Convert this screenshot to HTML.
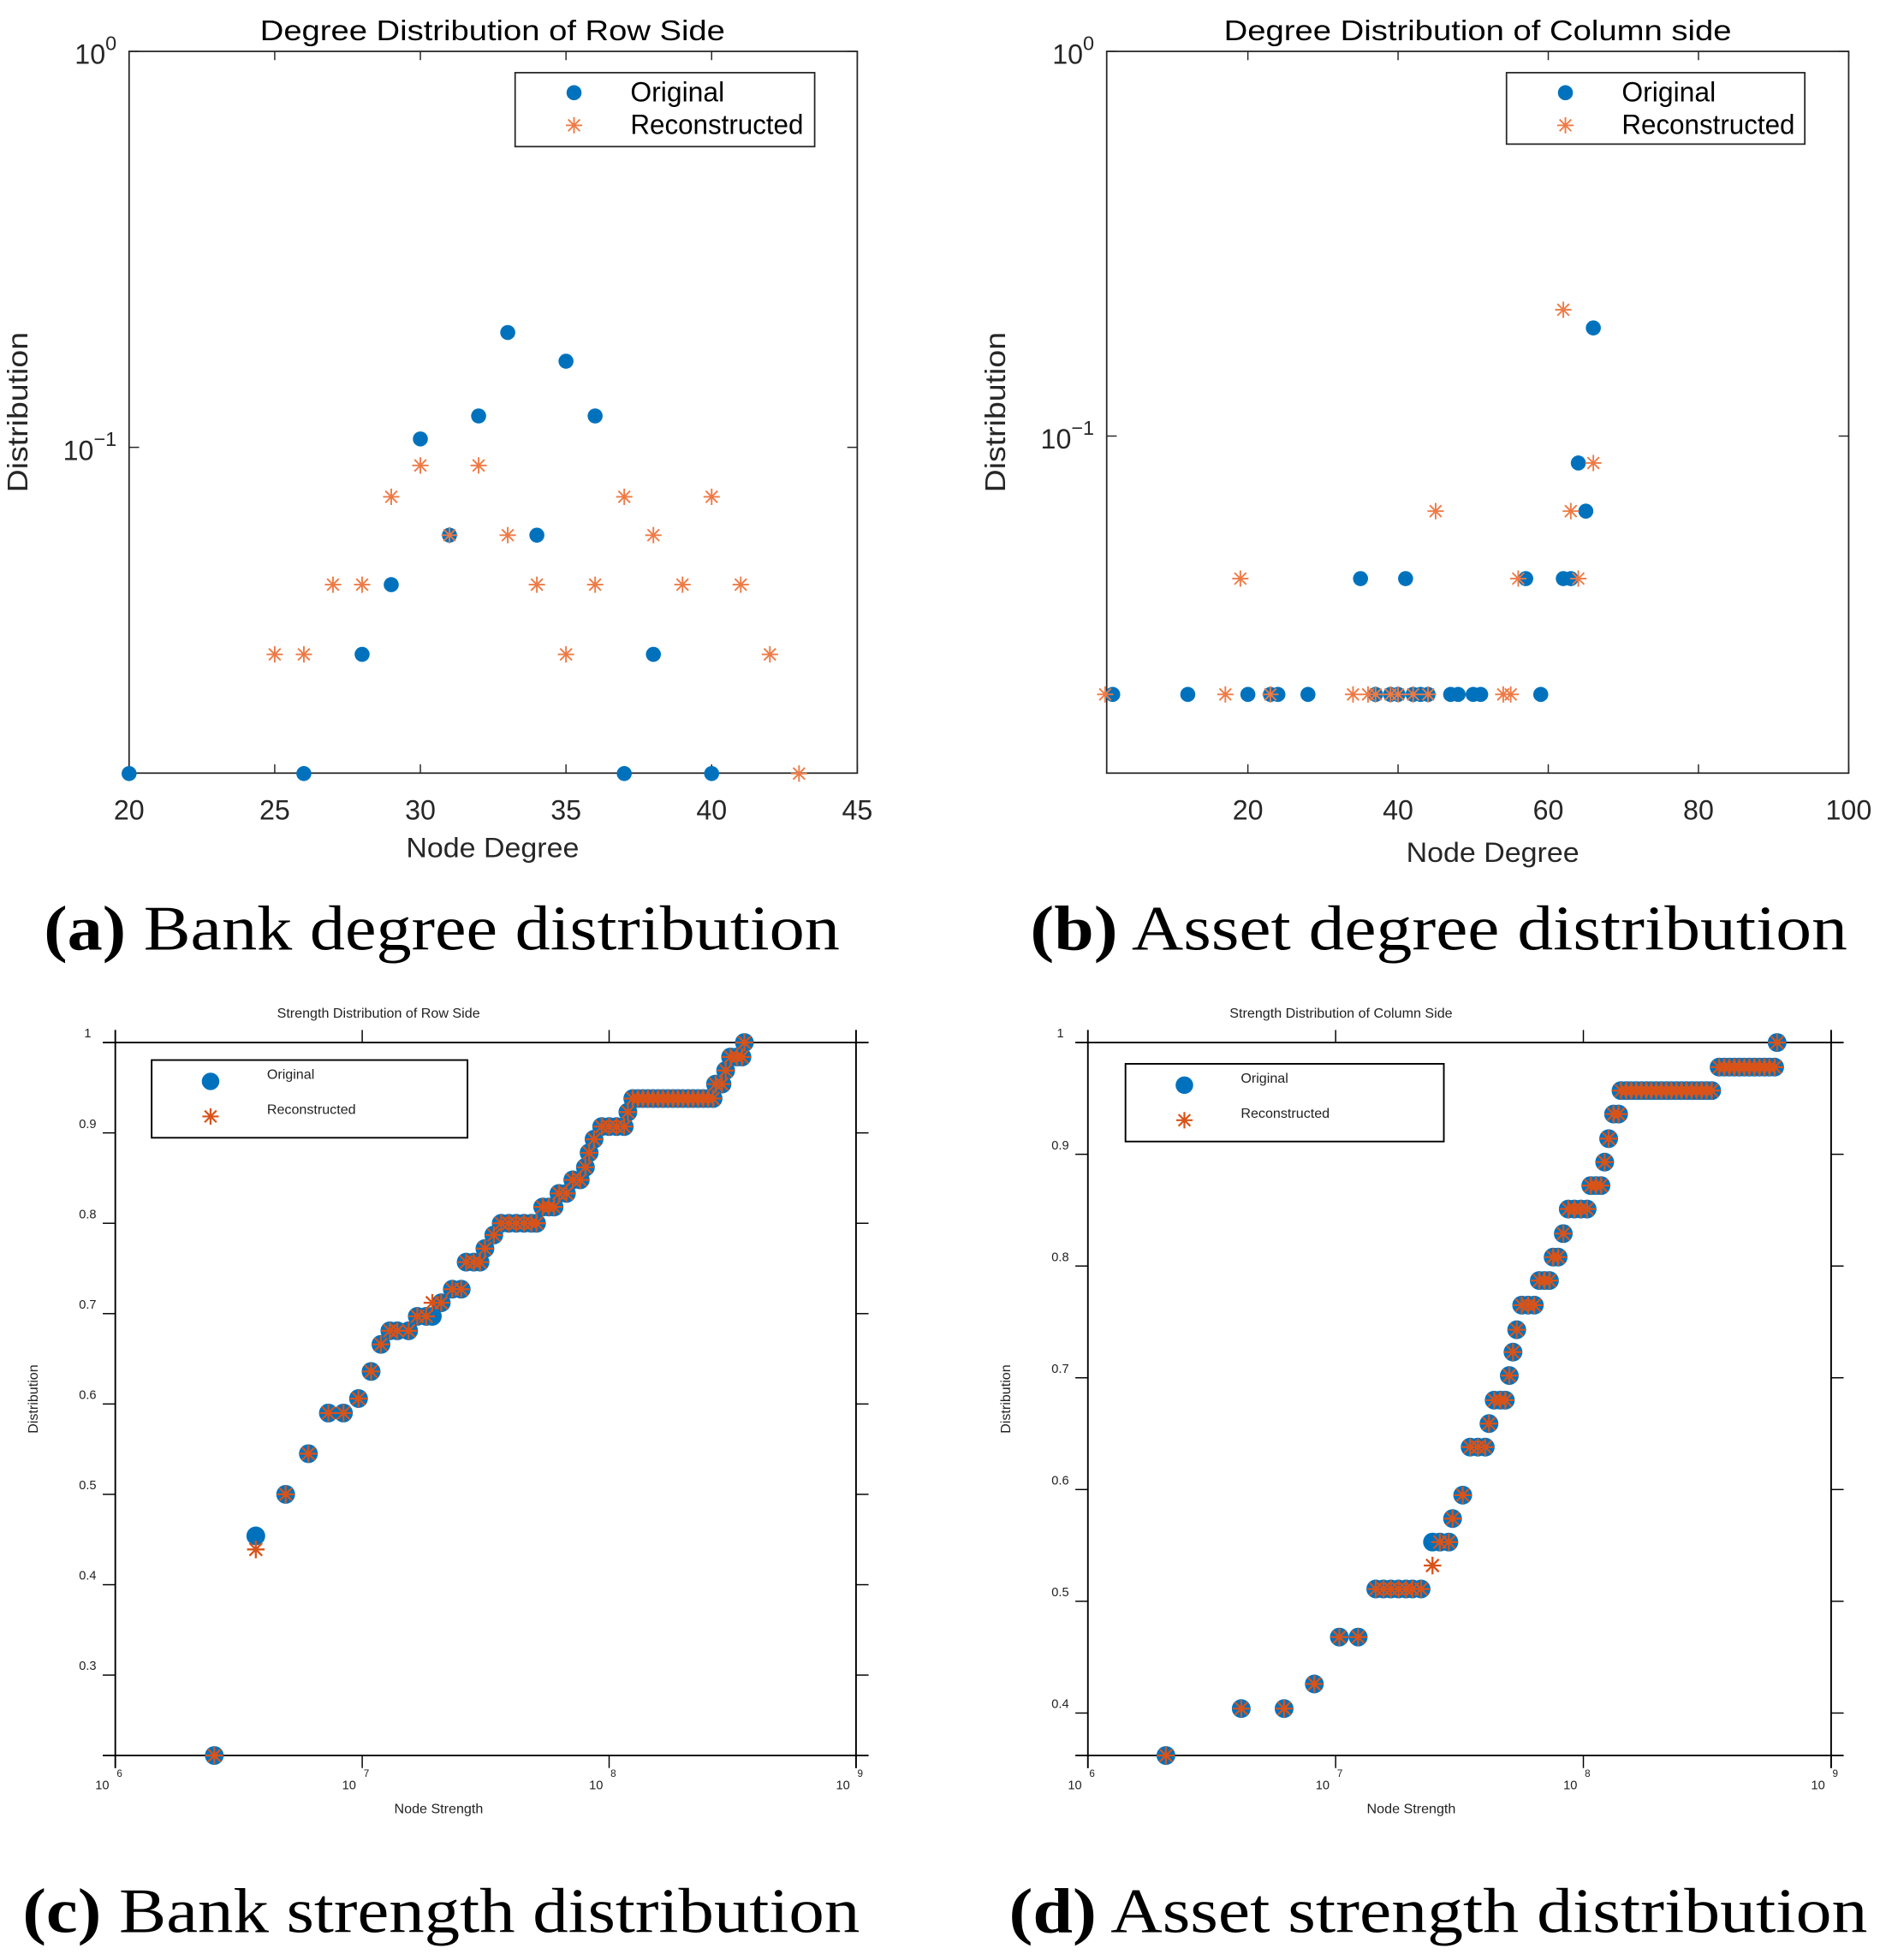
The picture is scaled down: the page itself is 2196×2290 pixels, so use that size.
<!DOCTYPE html>
<html><head><meta charset="utf-8"><style>
html,body{margin:0;padding:0;background:#fff;}
svg{display:block;}
</style></head><body>
<svg id="fig" xmlns="http://www.w3.org/2000/svg" width="2196" height="2290" viewBox="0 0 1500 1564.2" preserveAspectRatio="none" font-family="'Liberation Sans', sans-serif">
<rect x="0" y="0" width="1500" height="1565" fill="#fff"/>
<g id="pa"></g>
<g id="pb"></g>
<g id="pc"></g>
<g id="pd"></g>
<text x="35" y="758" font-family="'Liberation Serif', serif" font-size="51" textLength="635" lengthAdjust="spacingAndGlyphs"><tspan font-weight="bold">(a)</tspan> Bank degree distribution</text>
<text x="822" y="758" font-family="'Liberation Serif', serif" font-size="51" textLength="652" lengthAdjust="spacingAndGlyphs"><tspan font-weight="bold">(b)</tspan> Asset degree distribution</text>
<text x="18" y="1542" font-family="'Liberation Serif', serif" font-size="51" textLength="668" lengthAdjust="spacingAndGlyphs"><tspan font-weight="bold">(c)</tspan> Bank strength distribution</text>
<text x="805" y="1542" font-family="'Liberation Serif', serif" font-size="51" textLength="685" lengthAdjust="spacingAndGlyphs"><tspan font-weight="bold">(d)</tspan> Asset strength distribution</text>
</svg>
<script>
// ---- Panel A data ----
const aOrigDegree = [20,26,28,29,30,31,32,33,34,35,36,37,38,40];
const aOrigDist = [0.015,0.015,0.03,0.045,0.105,0.06,0.12,0.195,0.06,0.165,0.12,0.015,0.03,0.015];
const aRecDegree = [25,26,27,28,29,30,31,32,33,34,35,36,37,38,39,40,41,42,43];
const aRecDist = [0.03,0.03,0.045,0.045,0.075,0.09,0.06,0.09,0.06,0.045,0.03,0.045,0.075,0.06,0.045,0.075,0.045,0.03,0.015];
const aXTicks = [20,25,30,35,40,45];
// ---- Panel B data ----
const bOrigDegree = [2,12,20,23,24,28,37,39,40,42,43,44,47,48,50,51,59,35,41,57,62,63,65,64,66];
const bOrigDist = [0.0213,0.0213,0.0213,0.0213,0.0213,0.0213,0.0213,0.0213,0.0213,0.0213,0.0213,0.0213,0.0213,0.0213,0.0213,0.0213,0.0213,0.0426,0.0426,0.0426,0.0426,0.0426,0.0638,0.0851,0.191];
const bRecDegree = [1,17,23,34,36,37,39,40,42,44,54,55,19,56,64,45,63,66,62];
const bRecDist = [0.0213,0.0213,0.0213,0.0213,0.0213,0.0213,0.0213,0.0213,0.0213,0.0213,0.0213,0.0213,0.0426,0.0426,0.0426,0.0638,0.0638,0.0851,0.213];
const bXTicks = [20,40,60,80,100];
// ---- Panel C data (log10 strength) ----
const cLogStrength = [6.401,6.569,6.690,6.782,6.863,6.924,6.985,7.036,7.076,7.112,7.142,7.188,7.223,7.259,7.284,7.320,7.365,7.401,7.421,7.452,7.477,7.497,7.533,7.563,7.594,7.624,7.655,7.685,7.706,7.731,7.756,7.777,7.797,7.827,7.853,7.883,7.904,7.919,7.939,7.970,8.000,8.030,8.061,8.076,8.096,8.117,8.137,8.157,8.178,8.198,8.218,8.239,8.259,8.279,8.299,8.320,8.340,8.360,8.381,8.401,8.421,8.431,8.457,8.472,8.492,8.518,8.538,8.548];
const cOrigDist = [0.211,0.454,0.5,0.545,0.59,0.59,0.606,0.636,0.666,0.681,0.681,0.681,0.697,0.697,0.697,0.712,0.727,0.727,0.757,0.757,0.757,0.772,0.787,0.8,0.8,0.8,0.8,0.8,0.8,0.818,0.818,0.818,0.833,0.833,0.848,0.848,0.862,0.878,0.893,0.907,0.907,0.907,0.907,0.923,0.938,0.938,0.938,0.938,0.938,0.938,0.938,0.938,0.938,0.938,0.938,0.938,0.938,0.938,0.938,0.938,0.938,0.954,0.954,0.969,0.984,0.984,0.984,1.0];
const cRecDist = [0.211,0.439,0.5,0.545,0.59,0.59,0.606,0.636,0.666,0.681,0.681,0.681,0.697,0.697,0.712,0.712,0.727,0.727,0.757,0.757,0.757,0.772,0.787,0.8,0.8,0.8,0.8,0.8,0.8,0.818,0.818,0.818,0.833,0.833,0.848,0.848,0.862,0.878,0.893,0.907,0.907,0.907,0.907,0.923,0.938,0.938,0.938,0.938,0.938,0.938,0.938,0.938,0.938,0.938,0.938,0.938,0.938,0.938,0.938,0.938,0.938,0.954,0.954,0.969,0.984,0.984,0.984,1.0];
const cYTicks = [0.3,0.4,0.5,0.6,0.7,0.8,0.9,1];
// ---- Panel D data (log10 strength) ----
const dLogStrength = [6.315,6.619,6.792,6.914,7.015,7.091,7.162,7.193,7.223,7.254,7.284,7.310,7.345,7.391,7.421,7.457,7.472,7.513,7.543,7.574,7.604,7.619,7.640,7.665,7.685,7.701,7.716,7.731,7.751,7.777,7.802,7.822,7.843,7.863,7.878,7.898,7.919,7.939,7.964,7.990,8.015,8.030,8.051,8.071,8.086,8.102,8.122,8.142,8.152,8.173,8.193,8.213,8.234,8.254,8.274,8.294,8.315,8.335,8.355,8.376,8.396,8.416,8.437,8.457,8.477,8.497,8.518,8.548,8.569,8.589,8.609,8.629,8.650,8.670,8.690,8.711,8.731,8.751,8.772,8.782];
const dOrigDist = [0.362,0.404,0.404,0.426,0.468,0.468,0.511,0.511,0.511,0.511,0.511,0.511,0.511,0.553,0.553,0.553,0.574,0.595,0.638,0.638,0.638,0.659,0.68,0.68,0.68,0.702,0.723,0.743,0.765,0.765,0.765,0.787,0.787,0.787,0.808,0.808,0.829,0.851,0.851,0.851,0.851,0.872,0.872,0.872,0.893,0.914,0.936,0.936,0.957,0.957,0.957,0.957,0.957,0.957,0.957,0.957,0.957,0.957,0.957,0.957,0.957,0.957,0.957,0.957,0.957,0.957,0.957,0.978,0.978,0.978,0.978,0.978,0.978,0.978,0.978,0.978,0.978,0.978,0.978,1.0];
const dRecDist = [0.362,0.404,0.404,0.426,0.468,0.468,0.511,0.511,0.511,0.511,0.511,0.511,0.511,0.532,0.553,0.553,0.574,0.595,0.638,0.638,0.638,0.659,0.68,0.68,0.68,0.702,0.723,0.743,0.765,0.765,0.765,0.787,0.787,0.787,0.808,0.808,0.829,0.851,0.851,0.851,0.851,0.872,0.872,0.872,0.893,0.914,0.936,0.936,0.957,0.957,0.957,0.957,0.957,0.957,0.957,0.957,0.957,0.957,0.957,0.957,0.957,0.957,0.957,0.957,0.957,0.957,0.957,0.978,0.978,0.978,0.978,0.978,0.978,0.978,0.978,0.978,0.978,0.978,0.978,1.0];
const dYTicks = [0.4,0.5,0.6,0.7,0.8,0.9,1];
const logXTicks = [6,7,8,9];

const NS='http://www.w3.org/2000/svg';
function mk(parent, tag, attrs, txt){
  const e=document.createElementNS(NS,tag);
  for(const k in attrs) e.setAttribute(k,attrs[k]);
  if(txt!==undefined) e.textContent=txt;
  parent.appendChild(e); return e;
}
function dot(g,x,y,r,col){
  const c=mk(g,'circle',{cx:x,cy:y,r:r,fill:col});
  
  
  return c;
}
function star(g,x,y,s,col,w){
  const p=mk(g,'path',{d:`M${x-s},${y}H${x+s}M${x},${y-s}V${y+s}M${x-s*0.72},${y-s*0.72}L${x+s*0.72},${y+s*0.72}M${x-s*0.72},${y+s*0.72}L${x+s*0.72},${y-s*0.72}`,stroke:col,'stroke-width':w,fill:'none'});
  
  
  return p;
}
const BLUE='#0072BD', ORL='#EE7A45', ORD='#D95319';

function degreePanel(gid, box, xmin, xmax, yTop, yDec, xTicks, od, ov, rd, rv, title, titleLen, leg, titleX, xlabX, xlabY, ylabX){
  const g=document.getElementById(gid);
  const X=v=>box.l+(v-xmin)/(xmax-xmin)*(box.r-box.l);
  const Y=v=>yTop+(-Math.log10(v))*yDec;
  const ax=mk(g,'rect',{x:box.l,y:box.t,width:box.r-box.l,height:box.b-box.t,fill:'none',stroke:'#262626','stroke-width':1.2});
   
  xTicks.forEach(t=>{
    const x=X(t);
    mk(g,'line',{x1:x,y1:box.b,x2:x,y2:box.b-7,stroke:'#262626'});
    mk(g,'line',{x1:x,y1:box.t,x2:x,y2:box.t+7,stroke:'#262626'});
    const tl=mk(g,'text',{x:x,y:box.b+37,'font-size':22,'text-anchor':'middle',fill:'#262626'},String(t));
     
  });
  [0,-1].forEach(e=>{
    const y=Y(Math.pow(10,e));
    mk(g,'line',{x1:box.l,y1:y,x2:box.l+8,y2:y,stroke:'#262626'});
    mk(g,'line',{x1:box.r,y1:y,x2:box.r-8,y2:y,stroke:'#262626'});
    const tl=mk(g,'text',{x:box.l-10,y:y+10,'font-size':22,'text-anchor':'end',fill:'#262626'});
     
    tl.appendChild(document.createTextNode('10'));
    mk(tl,'tspan',{dy:-11,'font-size':16},e===0?'0':'\u22121');
  });
  const t=mk(g,'text',{x:titleX,y:box.t-9,'font-size':23,'text-anchor':'middle',fill:'#000',textLength:titleLen,lengthAdjust:'spacingAndGlyphs'},title);
   
  const xl=mk(g,'text',{x:xlabX,y:xlabY,'font-size':22,'text-anchor':'middle',fill:'#262626',textLength:138,lengthAdjust:'spacingAndGlyphs'},'Node Degree');
   
  const yl=mk(g,'text',{x:0,y:0,'font-size':23,'text-anchor':'middle',fill:'#262626',transform:`translate(${ylabX},329) rotate(-90)`,textLength:128,lengthAdjust:'spacingAndGlyphs'},'Distribution');
   
  od.forEach((d,i)=>dot(g,X(d),Y(ov[i]),6,BLUE));
  rd.forEach((d,i)=>star(g,X(d),Y(rv[i]),6.5,ORL,1.3));
  const lg=mk(g,'g',{});
   
  mk(lg,'rect',{x:leg.x,y:leg.y,width:leg.w,height:leg.h,fill:'#fff',stroke:'#262626','stroke-width':1.2});
  dot(lg,leg.x+47,leg.y+16,6,BLUE);
  star(lg,leg.x+47,leg.y+42,6.5,ORL,1.3);
  const e1=mk(lg,'text',{x:leg.x+92,y:leg.y+23,'font-size':22,fill:'#000',textLength:75,lengthAdjust:'spacingAndGlyphs'},'Original');
   
  const e2=mk(lg,'text',{x:leg.x+92,y:leg.y+49,'font-size':22,fill:'#000',textLength:138,lengthAdjust:'spacingAndGlyphs'},'Reconstructed');
   
}
degreePanel('pa',{l:103,r:684,t:41,b:617},20,45,41,316,aXTicks,aOrigDegree,aOrigDist,aRecDegree,aRecDist,'Degree Distribution of Row Side',371,{x:411,y:58,w:239,h:59},393,393,684,22);
degreePanel('pb',{l:883,r:1475,t:41,b:617},1.2,100,41,307,bXTicks,bOrigDegree,bOrigDist,bRecDegree,bRecDist,'Degree Distribution of Column side',405,{x:1202,y:58,w:238,h:57},1179,1191,688,802);

function strengthPanel(gid, box, yMin, xs, ov, rv, yTicks, title, titleX, leg){
  const g=document.getElementById(gid);
  const X=v=>box.l+(v-6)/3*(box.r-box.l);
  const Y=v=>box.b-(v-yMin)/(1-yMin)*(box.b-box.t);
  mk(g,'line',{x1:box.l-10,y1:box.t,x2:box.r+10,y2:box.t,stroke:'#000','stroke-width':1.3});
  mk(g,'line',{x1:box.l-10,y1:box.b,x2:box.r+10,y2:box.b,stroke:'#000','stroke-width':1.3});
  mk(g,'line',{x1:box.l,y1:box.t-10,x2:box.l,y2:box.b+10,stroke:'#000','stroke-width':1.3});
  mk(g,'line',{x1:box.r,y1:box.t-10,x2:box.r,y2:box.b+10,stroke:'#000','stroke-width':1.3});
  logXTicks.forEach(t=>{
    const x=X(t);
    mk(g,'line',{x1:x,y1:box.t-10,x2:x,y2:box.t,stroke:'#000'});
    mk(g,'line',{x1:x,y1:box.b,x2:x,y2:box.b+10,stroke:'#000'});
    const tl=mk(g,'text',{x:x-16,y:box.b+27,'font-size':10,fill:'#222'});
     
    tl.appendChild(document.createTextNode('10'));
    mk(tl,'tspan',{dx:6,dy:-10,'font-size':8},String(t));
  });
  yTicks.forEach(t=>{
    const y=Y(t);
    if(t<1){
      mk(g,'line',{x1:box.l-10,y1:y,x2:box.l,y2:y,stroke:'#000'});
      mk(g,'line',{x1:box.r,y1:y,x2:box.r+10,y2:y,stroke:'#000'});
    }
    const tl=mk(g,'text',{x:box.l-29,y:y-4,'font-size':10,'text-anchor':t<1?'start':'middle',fill:'#222'},String(t));
    if(t===1) tl.setAttribute('x',box.l-22);
     
  });
  const tt=mk(g,'text',{x:titleX,y:box.t-20,'font-size':11,'text-anchor':'middle',fill:'#222'},title);
   
  const xl=mk(g,'text',{x:box.l+258,y:box.b+46,'font-size':11,'text-anchor':'middle',fill:'#222'},'Node Strength');
   
  const yl=mk(g,'text',{x:0,y:0,'font-size':11,'text-anchor':'middle',fill:'#222',transform:`translate(${box.l-62},${(box.t+box.b)/2}) rotate(-90)`},'Distribution');
   
  xs.forEach((s,i)=>dot(g,X(s),Y(ov[i]),7.5,BLUE));
  xs.forEach((s,i)=>star(g,X(s),Y(rv[i]),7,ORD,1.6));
  const lg=mk(g,'g',{});
   
  mk(lg,'rect',{x:leg.x,y:leg.y,width:leg.w,height:leg.h,fill:'#fff',stroke:'#000','stroke-width':1.3});
  dot(lg,leg.x+47,leg.y+17,7,BLUE);
  star(lg,leg.x+47,leg.y+45,6.5,ORD,1.5);
  const e1=mk(lg,'text',{x:leg.x+92,y:leg.y+15,'font-size':11,fill:'#222'},'Original');
   
  const e2=mk(lg,'text',{x:leg.x+92,y:leg.y+43,'font-size':11,fill:'#222'},'Reconstructed');
   
}
strengthPanel('pc',{l:92,r:683,t:832,b:1401},0.211,cLogStrength,cOrigDist,cRecDist,cYTicks,'Strength Distribution of Row Side',302,{x:121,y:846,w:252,h:62});
strengthPanel('pd',{l:868,r:1461,t:832,b:1401},0.362,dLogStrength,dOrigDist,dRecDist,dYTicks,'Strength Distribution of Column Side',1070,{x:898,y:849,w:254,h:62});
</script>
</body></html>
